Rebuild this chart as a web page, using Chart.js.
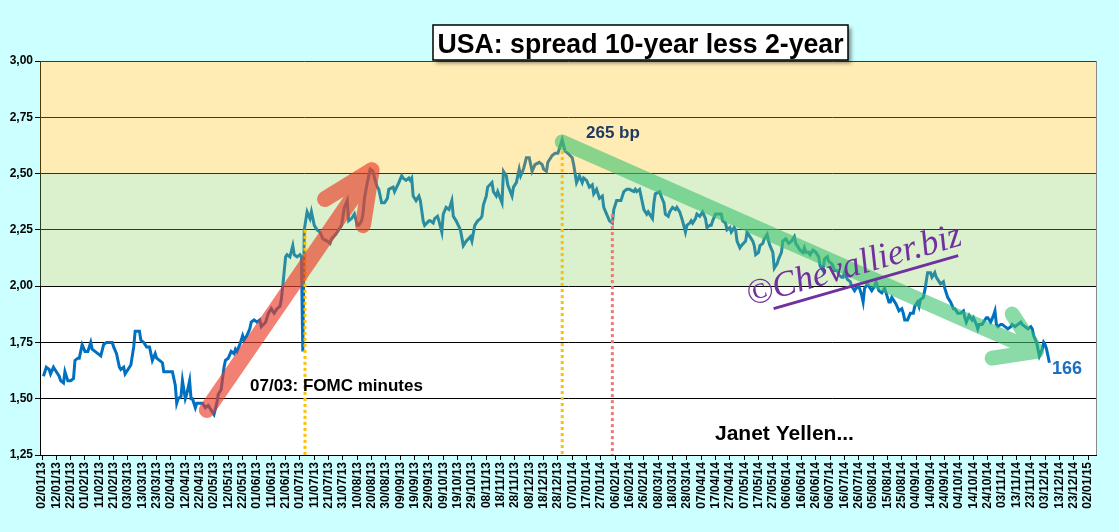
<!DOCTYPE html>
<html>
<head>
<meta charset="utf-8">
<script src="https://cdn.jsdelivr.net/npm/chart.js@4.4.0/dist/chart.umd.min.js"></script>
<style>
  html, body { margin: 0; padding: 0; background: #ccffff; }
</style>
</head>
<body>
<canvas id="spreadChart" width="1119" height="532"></canvas>
<script>
// days counted from 02/01/2013, spread in %
const days = [
  1, 3, 5, 6, 8, 10, 12, 13, 15, 16, 18, 20, 22, 23, 25, 26, 28, 30, 32, 34,
  35, 37, 39, 41, 43, 45, 47, 49, 50, 52, 54, 55, 57, 58, 60, 62, 64, 65, 67, 68,
  69, 71, 73, 75, 76, 77, 79, 80, 82, 84, 85, 87, 89, 91, 93, 94, 95, 97, 98, 100,
  101, 103, 104, 105, 107, 108, 111, 112, 114, 116, 118, 120, 122, 123, 125, 127, 128, 130, 132, 134,
  135, 136, 138, 140, 141, 143, 145, 146, 148, 150, 152, 153, 156, 158, 160, 162, 164, 166, 167, 168,
  170, 171, 173, 175, 176, 178, 180, 181, 182, 183, 185, 187, 188, 190, 192, 194, 196, 199, 201, 202,
  205, 207, 209, 211, 213, 214, 216, 218, 220, 221, 223, 224, 225, 227, 228, 229, 231, 232, 234, 235,
  237, 239, 241, 242, 245, 246, 249, 251, 252, 254, 256, 257, 258, 259, 261, 263, 264, 266, 267, 270,
  271, 273, 274, 276, 277, 279, 280, 282, 284, 286, 287, 289, 292, 294, 295, 296, 299, 300, 302, 304,
  306, 307, 308, 310, 311, 314, 315, 317, 318, 321, 322, 324, 325, 328, 329, 331, 333, 334, 336, 338,
  340, 342, 344, 347, 349, 350, 352, 353, 356, 358, 360, 361, 363, 365, 367, 370, 371, 373, 375, 377,
  378, 380, 382, 384, 385, 387, 389, 391, 392, 394, 396, 398, 399, 401, 402, 404, 406, 408, 410, 413,
  414, 415, 417, 418, 420, 422, 423, 425, 426, 427, 428, 431, 432, 434, 435, 437, 438, 440, 442, 443,
  445, 446, 447, 449, 450, 452, 453, 454, 456, 457, 459, 461, 463, 464, 466, 467, 468, 470, 472, 474,
  475, 477, 478, 480, 481, 483, 484, 485, 487, 488, 491, 492, 494, 496, 497, 498, 500, 501, 503, 504,
  506, 507, 508, 510, 511, 513, 514, 516, 517, 519, 521, 523, 525, 526, 528, 529, 531, 532, 533, 535,
  536, 538, 540, 542, 543, 545, 546, 548, 549, 551, 552, 553, 555, 556, 558, 559, 560, 562, 564, 565,
  567, 568, 570, 572, 573, 574, 576, 577, 579, 581, 582, 583, 584, 586, 588, 589, 591, 592, 593, 595,
  596, 598, 600, 601, 602, 604, 606, 608, 609, 611, 612, 613, 615, 616, 617, 618, 620, 621, 623, 624,
  626, 627, 629, 630, 632, 634, 636, 637, 639, 641, 643, 644, 645, 647, 649, 650, 652, 653, 654, 656,
  657, 659, 660, 662, 664, 665, 666, 667, 669, 670, 672, 674, 676, 677, 679, 681, 683, 684, 686, 688,
  690, 691, 692, 694, 695, 696, 698, 699, 700, 701, 702, 703
];
const spread = [
  1.60, 1.64, 1.63, 1.61, 1.64, 1.62, 1.60, 1.58, 1.57, 1.62, 1.58, 1.58, 1.59, 1.67, 1.68, 1.68, 1.74, 1.71, 1.71, 1.75,
  1.72, 1.71, 1.70, 1.69, 1.74, 1.75, 1.75, 1.75, 1.73, 1.70, 1.64, 1.63, 1.64, 1.61, 1.63, 1.65, 1.73, 1.80, 1.80, 1.80,
  1.76, 1.75, 1.73, 1.73, 1.70, 1.67, 1.70, 1.68, 1.67, 1.66, 1.62, 1.62, 1.62, 1.62, 1.56, 1.48, 1.50, 1.51, 1.58, 1.50,
  1.52, 1.58, 1.50, 1.50, 1.46, 1.48, 1.48, 1.48, 1.46, 1.47, 1.45, 1.43, 1.48, 1.52, 1.54, 1.64, 1.67, 1.68, 1.71, 1.70,
  1.72, 1.71, 1.74, 1.78, 1.76, 1.78, 1.81, 1.84, 1.85, 1.84, 1.85, 1.82, 1.84, 1.88, 1.90, 1.88, 1.90, 1.91, 1.94, 2.00,
  2.13, 2.14, 2.13, 2.18, 2.14, 2.13, 2.14, 2.13, 1.71, 2.25, 2.33, 2.30, 2.33, 2.27, 2.25, 2.24, 2.21, 2.20, 2.19, 2.21,
  2.23, 2.25, 2.27, 2.35, 2.38, 2.29, 2.30, 2.32, 2.27, 2.27, 2.29, 2.32, 2.39, 2.46, 2.49, 2.52, 2.51, 2.48, 2.44, 2.43,
  2.37, 2.37, 2.39, 2.43, 2.44, 2.42, 2.46, 2.49, 2.48, 2.47, 2.48, 2.47, 2.48, 2.40, 2.38, 2.40, 2.38, 2.29, 2.27, 2.29,
  2.29, 2.28, 2.30, 2.31, 2.29, 2.24, 2.32, 2.35, 2.34, 2.38, 2.31, 2.29, 2.25, 2.18, 2.19, 2.20, 2.22, 2.20, 2.27, 2.29,
  2.30, 2.31, 2.36, 2.40, 2.44, 2.46, 2.42, 2.40, 2.42, 2.37, 2.51, 2.49, 2.45, 2.40, 2.44, 2.46, 2.52, 2.49, 2.52, 2.57,
  2.57, 2.51, 2.54, 2.55, 2.54, 2.52, 2.51, 2.55, 2.58, 2.59, 2.59, 2.61, 2.65, 2.60, 2.59, 2.57, 2.54, 2.46, 2.49, 2.46,
  2.48, 2.47, 2.44, 2.45, 2.41, 2.43, 2.39, 2.40, 2.35, 2.32, 2.29, 2.28, 2.34, 2.38, 2.38, 2.38, 2.42, 2.43, 2.43, 2.42,
  2.43, 2.42, 2.43, 2.40, 2.34, 2.32, 2.33, 2.31, 2.30, 2.37, 2.41, 2.42, 2.40, 2.37, 2.32, 2.31, 2.33, 2.35, 2.34, 2.35,
  2.33, 2.31, 2.29, 2.24, 2.27, 2.28, 2.29, 2.28, 2.30, 2.32, 2.31, 2.33, 2.30, 2.26, 2.27, 2.27, 2.29, 2.32, 2.32, 2.32,
  2.29, 2.28, 2.25, 2.26, 2.24, 2.26, 2.25, 2.20, 2.17, 2.18, 2.20, 2.24, 2.22, 2.20, 2.18, 2.14, 2.15, 2.18, 2.19, 2.21,
  2.23, 2.20, 2.18, 2.15, 2.08, 2.10, 2.12, 2.15, 2.20, 2.21, 2.19, 2.20, 2.22, 2.19, 2.17, 2.16, 2.15, 2.17, 2.15, 2.15,
  2.14, 2.16, 2.15, 2.13, 2.09, 2.07, 2.12, 2.13, 2.11, 2.10, 2.09, 2.07, 2.07, 2.05, 2.04, 2.04, 2.06, 2.03, 2.02, 2.00,
  1.98, 1.99, 2.00, 1.96, 1.93, 1.99, 2.01, 2.00, 1.98, 2.00, 2.02, 2.00, 1.98, 1.97, 1.99, 1.97, 1.93, 1.93, 1.95, 1.93,
  1.92, 1.89, 1.90, 1.88, 1.85, 1.85, 1.88, 1.88, 1.91, 1.93, 1.91, 1.94, 1.95, 1.98, 2.02, 2.06, 2.06, 2.04, 2.06, 2.04,
  2.02, 2.01, 2.02, 1.99, 1.95, 1.93, 1.90, 1.90, 1.88, 1.88, 1.89, 1.86, 1.84, 1.87, 1.85, 1.86, 1.83, 1.81, 1.83, 1.83,
  1.84, 1.86, 1.86, 1.84, 1.87, 1.89, 1.83, 1.82, 1.83, 1.83, 1.82, 1.81, 1.82, 1.83, 1.82, 1.83, 1.84, 1.83, 1.82, 1.81,
  1.82, 1.81, 1.78, 1.75, 1.72, 1.69, 1.72, 1.75, 1.74, 1.72, 1.69, 1.66
];

const startDate = Date.UTC(2013, 0, 2);
const tickDays = [];
for (let d = 0; d <= 730; d += 10) tickDays.push(d);
const tickLabels = tickDays.map(d => {
  const t = new Date(startDate + d * 86400000);
  const p = n => String(n).padStart(2, "0");
  return p(t.getUTCDate()) + "/" + p(t.getUTCMonth() + 1) + "/" + p(t.getUTCFullYear() % 100);
});
const yTicks = [1.25, 1.50, 1.75, 2.00, 2.25, 2.50, 2.75, 3.00];

// shaded zones, painted see-through over the line
const zones = [
  { from: 2.50, to: 3.00, color: "rgba(255,188,5,0.3)" },
  { from: 2.00, to: 2.50, color: "rgba(135,205,85,0.3)" }
];

// annotation anchors in (day, spread)
const fomcDay = 183.5, peakDay = 363, yellenDay = 398;
const redArrow   = { tail: [115, 1.45], tip: [230, 2.515], arms: [[197.5, 2.387], [224, 2.271]] };
const greenArrow = { tail: [363, 2.64], tip: [694, 1.71], arms: [[663, 1.68], [677, 1.876]] };

const FONT = "'Liberation Sans', Arial, sans-serif";

function drawArrow(ctx, x, y, arrow, color, width) {
  const P = p => [x.getPixelForValue(p[0]), y.getPixelForValue(p[1])];
  const t0 = P(arrow.tail), t1 = P(arrow.tip);
  ctx.save();
  ctx.beginPath();
  ctx.moveTo(t0[0], t0[1]);
  ctx.lineTo(t1[0], t1[1]);
  arrow.arms.forEach(a => {
    const q = P(a);
    ctx.moveTo(q[0], q[1]);
    ctx.lineTo(t1[0], t1[1]);
  });
  ctx.strokeStyle = color;
  ctx.lineWidth = width;
  ctx.lineCap = "round";
  ctx.lineJoin = "round";
  ctx.stroke();
  ctx.restore();
}

function dottedLine(ctx, x, y, day, fromVal, color) {
  const px = x.getPixelForValue(day);
  ctx.save();
  ctx.strokeStyle = color;
  ctx.lineWidth = 3;
  ctx.setLineDash([3, 3]);
  ctx.beginPath();
  ctx.moveTo(px, y.getPixelForValue(fromVal));
  ctx.lineTo(px, y.getPixelForValue(1.25));
  ctx.stroke();
  ctx.restore();
}

const decor = {
  id: "decor",
  beforeDraw(chart) {
    const { ctx, chartArea: a } = chart;
    ctx.save();
    ctx.fillStyle = "#ccffff";
    ctx.fillRect(0, 0, chart.width, chart.height);
    ctx.fillStyle = "#ffffff";
    ctx.fillRect(a.left, a.top, a.right - a.left, a.bottom - a.top);
    ctx.restore();
  },
  afterDatasetsDraw(chart) {
    const { ctx, chartArea: a, scales: { y } } = chart;
    ctx.save();
    zones.forEach(z => {
      const top = y.getPixelForValue(z.to), bot = y.getPixelForValue(z.from);
      ctx.fillStyle = z.color;
      ctx.fillRect(a.left, top, a.right - a.left, bot - top);
    });
    ctx.strokeStyle = "#8a8a8a";
    ctx.lineWidth = 1;
    ctx.beginPath();
    ctx.moveTo(a.right + 0.5, a.top);
    ctx.lineTo(a.right + 0.5, a.bottom);
    ctx.stroke();
    ctx.restore();
  },
  afterDraw(chart) {
    const { ctx, scales: { x, y } } = chart;

    dottedLine(ctx, x, y, fomcDay, 2.25, "#ffc000");
    dottedLine(ctx, x, y, peakDay, 2.60, "#ffc000");
    dottedLine(ctx, x, y, yellenDay, 2.32, "#f07878");

    drawArrow(ctx, x, y, redArrow, "rgba(235,60,40,0.65)", 16);
    drawArrow(ctx, x, y, greenArrow, "rgba(60,195,110,0.6)", 15);

    ctx.save();
    ctx.textAlign = "left";
    ctx.textBaseline = "alphabetic";
    ctx.fillStyle = "#000";
    ctx.font = "bold 17px " + FONT;
    ctx.fillText("07/03: FOMC minutes", 250, 391, 192);
    ctx.font = "bold 21px " + FONT;
    ctx.fillText("Janet Yellen...", 715, 440, 156);
    ctx.fillStyle = "#1f3864";
    ctx.font = "bold 17px " + FONT;
    ctx.fillText("265 bp", 586, 138, 60);
    ctx.fillStyle = "#1a6fc0";
    ctx.font = "bold 18px " + FONT;
    ctx.fillText("166", 1052, 374, 32);

    // title box
    ctx.shadowColor = "rgba(0,0,0,0.45)";
    ctx.shadowBlur = 4;
    ctx.shadowOffsetX = 3;
    ctx.shadowOffsetY = 3;
    ctx.fillStyle = "#fff";
    ctx.fillRect(433, 25, 415, 35);
    ctx.shadowColor = "transparent";
    ctx.strokeStyle = "#000";
    ctx.lineWidth = 1.5;
    ctx.strokeRect(433, 25, 415, 35);
    ctx.fillStyle = "#000";
    ctx.textAlign = "center";
    ctx.font = "bold 28px " + FONT;
    ctx.fillText("USA: spread 10-year less 2-year", 640.5, 53, 406);

    // watermark
    ctx.translate(750, 306);
    ctx.rotate(-16 * Math.PI / 180);
    ctx.fillStyle = "#7030a0";
    ctx.textAlign = "left";
    ctx.font = "italic 36px 'Liberation Serif', serif";
    ctx.fillText("©Chevallier.biz", 0, 0, 222);
    ctx.strokeStyle = "#7030a0";
    ctx.lineWidth = 3;
    ctx.beginPath();
    ctx.moveTo(22, 9);
    ctx.lineTo(214, 9);
    ctx.stroke();
    ctx.restore();
  }
};

new Chart(document.getElementById("spreadChart"), {
  type: "line",
  data: {
    datasets: [{
      data: days.map((d, i) => ({ x: d, y: spread[i] })),
      borderColor: "#0070c0",
      borderWidth: 3,
      pointRadius: 0,
      tension: 0,
      fill: false
    }]
  },
  options: {
    responsive: false,
    animation: false,
    layout: { padding: { top: 61, right: 23, left: 0, bottom: 0 } },
    plugins: { legend: { display: false }, tooltip: { enabled: false } },
    scales: {
      x: {
        type: "linear",
        min: -1.4,
        max: 735.5,
        afterBuildTicks: s => { s.ticks = tickDays.map(v => ({ value: v })); },
        afterFit: s => { s.height = 77; },
        grid: { drawOnChartArea: false, drawTicks: true, tickLength: 5, color: "#000" },
        border: { color: "#000", width: 1 },
        ticks: {
          autoSkip: false,
          minRotation: 90,
          maxRotation: 90,
          padding: 2,
          color: "#000",
          font: { family: FONT, size: 12, weight: "bold" },
          callback: (v, i) => tickLabels[i]
        }
      },
      y: {
        min: 1.25,
        max: 3.00,
        afterBuildTicks: s => { s.ticks = yTicks.map(v => ({ value: v })); },
        afterFit: s => { s.width = 40; },
        grid: { color: "#000", lineWidth: 1, tickLength: 5 },
        border: { color: "#000", width: 1 },
        ticks: {
          padding: 2,
          color: "#000",
          font: { family: FONT, size: 12, weight: "bold" },
          callback: v => v.toFixed(2).replace(".", ",")
        }
      }
    }
  },
  plugins: [decor]
});
</script>
</body>
</html>
